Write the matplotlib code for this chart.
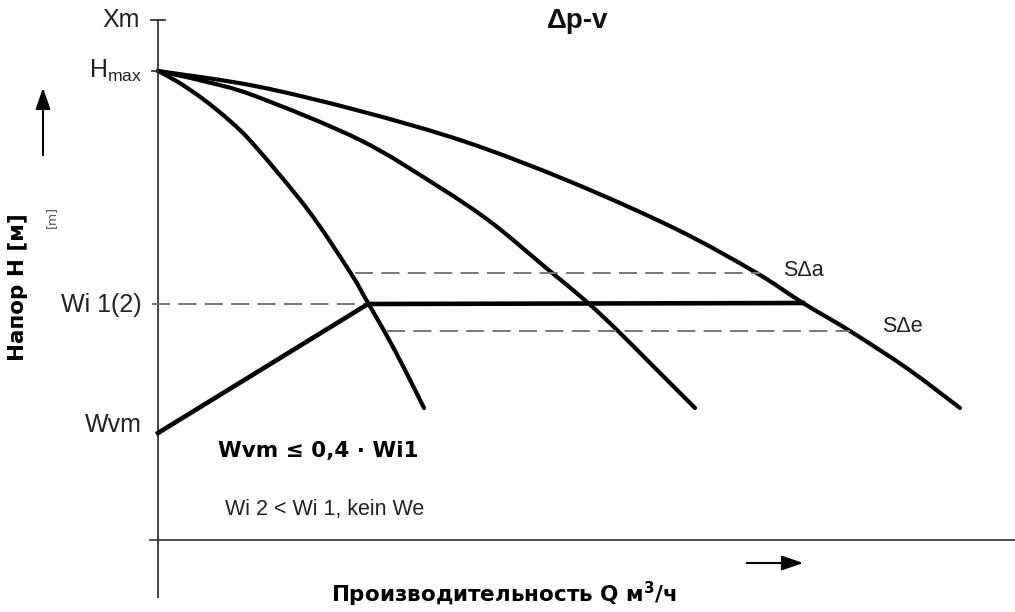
import numpy as np
import matplotlib.pyplot as plt
from matplotlib.path import Path
from matplotlib.patches import PathPatch

plt.rcParams['lines.scale_dashes'] = False

# pump curves, Q (flow) and H (head) in drawing units, origin at axis crossing
q_curve1 = [0, 20, 45, 72, 97, 150, 192, 210, 229, 247, 266]
h_curve1 = [469, 458, 441, 419, 394, 330, 268, 237, 204, 170, 132]

q_curve2 = [0, 45, 97, 202, 281, 334, 387, 429, 460, 492, 537]
h_curve2 = [469, 459, 444, 400, 353, 317, 273, 238, 209, 177, 132]

q_curve3 = [0, 97, 202, 308, 413, 518, 597, 645, 692, 750, 802]
h_curve3 = [469, 454, 429, 398, 358, 311, 268, 237, 209, 171, 132]

# operating line: from Wvm up to Wi1, then along Wi1 to the max curve
q_oper = [0, 210, 645]
h_oper = [107, 236, 237]

h_max = 469
h_wi = 236
h_xm = 520
h_sa = 267   # upper dashed line
h_se = 209   # lower dashed line
q_sa = [197, 602]
q_se = [229, 692]


def smooth_path(q, h):
    # cubic bezier pieces through every read point (catmull-rom tangents)
    pts = np.column_stack([q, h]).astype(float)
    n = len(pts)
    verts = [pts[0]]
    codes = [Path.MOVETO]
    for i in range(n - 1):
        p0 = pts[max(i - 1, 0)]
        p1 = pts[i]
        p2 = pts[i + 1]
        p3 = pts[min(i + 2, n - 1)]
        verts += [p1 + (p2 - p0) / 6, p2 - (p3 - p1) / 6, p2]
        codes += [Path.CURVE4] * 3
    return Path(verts, codes)


fig = plt.figure(figsize=(10.15, 6.12), dpi=100)
ax = fig.add_axes([0, 0, 1, 1])
ax.set_xlim(-158, 1015 - 158)
ax.set_ylim(540 - 612, 540)
ax.axis('off')

reg = dict(family='Liberation Sans', fontsize=18, color='#222222')
small = dict(family='Liberation Sans', fontsize=15.5, color='#222222')
bold = dict(family='DejaVu Sans', fontweight='bold', fontsize=15.5, color='black')

# axes
ax.plot([0, 0], [-57, h_xm], color='#333333', lw=1.3)
ax.plot([-8, 857], [0, 0], color='#333333', lw=1.2)
ax.plot([-7, 7], [h_xm, h_xm], color='#333333', lw=1.3)
ax.plot([-6, 0], [h_max, h_max], color='#333333', lw=1.3)

# dashed reference lines
dash = dict(color='#777777', lw=1.4, dashes=(13, 6))
ax.plot([-6, 210], [h_wi, h_wi], **dash)
ax.plot(q_sa, [h_sa, h_sa], **dash)
ax.plot(q_se, [h_se, h_se], **dash)

# curves
for q, h in [(q_curve1, h_curve1), (q_curve2, h_curve2), (q_curve3, h_curve3)]:
    ax.add_patch(PathPatch(smooth_path(q, h), fill=False, edgecolor='black', lw=3,
                           capstyle='round', joinstyle='round'))
ax.plot(q_oper, h_oper, color='black', lw=3.3, solid_joinstyle='miter')

# labels at the y axis
ax.text(-18, h_xm, 'Xm', ha='right', va='center', **reg)
ax.text(-16, h_max, r'H$_{\mathregular{max}}$', ha='right', va='center', **reg)
ax.text(-16, h_wi - 1, 'Wi 1(2)', ha='right', va='center', **reg)
ax.text(-16, 115, 'Wvm', ha='right', va='center', **reg)

ax.text(625, 270, 'S\u0394a', ha='left', va='center', **small)
ax.text(724, 214, 'S\u0394e', ha='left', va='center', **small)
ax.text(420, 519, '\u0394p-v', ha='center', va='center', family='Liberation Sans',
        fontweight='bold', fontsize=20, color='#111111')

ax.text(60, 89, 'Wvm \u2264 0,4 \u00b7 Wi1', ha='left', va='center', **bold)
ax.text(67, 30, 'Wi 2 < Wi 1, kein We', ha='left', va='center', **small)

# axis titles with arrows
ax.text(-140, 253, 'Напор H [м]', rotation=90, ha='center', va='center', **bold)
ax.text(-107, 323, '[m]', rotation=90, ha='center', va='center', family='DejaVu Sans',
        fontsize=9, color='#555555')
ax.annotate('', xy=(-115, 455), xytext=(-115, 382),
            arrowprops=dict(arrowstyle='-|>,head_length=1.3,head_width=0.45', color='black', lw=1.5))

ax.text(346, -54, 'Производительность Q м$^{\\mathregular{3}}$/ч', ha='center', va='center', **bold)
ax.annotate('', xy=(648, -23), xytext=(586, -23),
            arrowprops=dict(arrowstyle='-|>,head_length=1.3,head_width=0.45', color='black', lw=1.5))

fig.savefig('out.png', dpi=100, facecolor='white')
